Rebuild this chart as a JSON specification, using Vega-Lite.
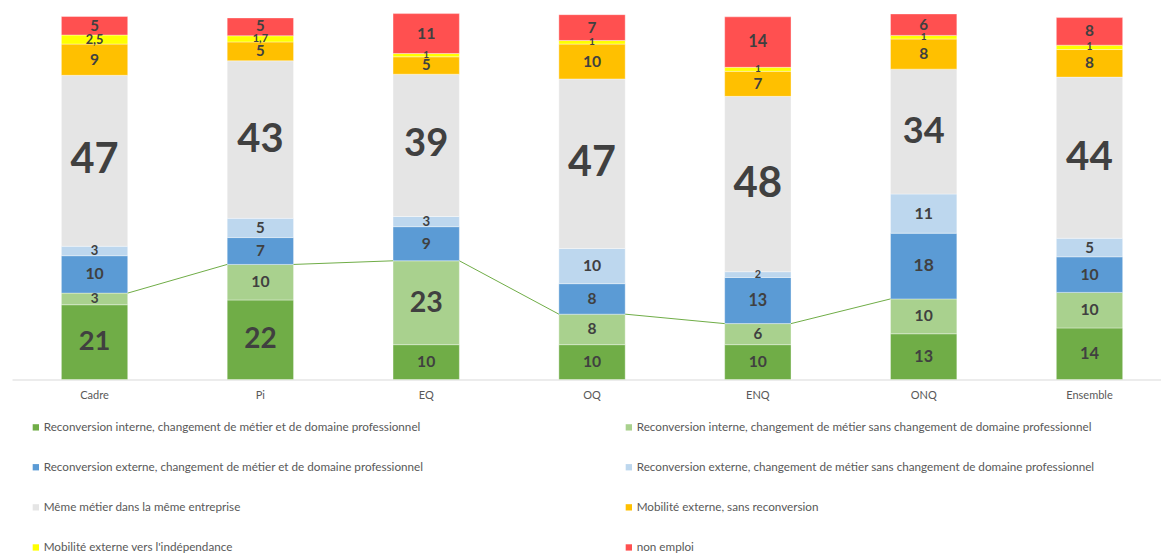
{
  "$schema": "https://vega.github.io/schema/vega-lite/v6.json",
  "width": 1149,
  "height": 378.5,
  "autosize": {"type": "none"},
  "padding": {"left": 12, "top": 1, "right": 0, "bottom": 180.5},
  "background": "white",
  "config": {"view": {"stroke": null}, "font": "Lato"},
  "datasets": {
    "segs": [
      {"cat": "Cadre", "k": 1, "serie": "Reconversion interne, changement de métier et de domaine professionnel", "value": 20.6, "label": "21"},
      {"cat": "Cadre", "k": 2, "serie": "Reconversion interne, changement de métier sans changement de domaine professionnel", "value": 3.2, "label": "3"},
      {"cat": "Cadre", "k": 3, "serie": "Reconversion externe, changement de métier et de domaine professionnel", "value": 10.3, "label": "10"},
      {"cat": "Cadre", "k": 4, "serie": "Reconversion externe, changement de métier sans changement de domaine professionnel", "value": 2.6, "label": "3"},
      {"cat": "Cadre", "k": 5, "serie": "Même métier dans la même entreprise", "value": 47.1, "label": "47"},
      {"cat": "Cadre", "k": 6, "serie": "Mobilité externe, sans reconversion", "value": 8.6, "label": "9"},
      {"cat": "Cadre", "k": 7, "serie": "Mobilité externe vers l'indépendance", "value": 2.5, "label": "2,5"},
      {"cat": "Cadre", "k": 8, "serie": "non emploi", "value": 5.1, "label": "5"},

      {"cat": "Pi", "k": 1, "serie": "Reconversion interne, changement de métier et de domaine professionnel", "value": 21.9, "label": "22"},
      {"cat": "Pi", "k": 2, "serie": "Reconversion interne, changement de métier sans changement de domaine professionnel", "value": 9.8, "label": "10"},
      {"cat": "Pi", "k": 3, "serie": "Reconversion externe, changement de métier et de domaine professionnel", "value": 7.4, "label": "7"},
      {"cat": "Pi", "k": 4, "serie": "Reconversion externe, changement de métier sans changement de domaine professionnel", "value": 5.3, "label": "5"},
      {"cat": "Pi", "k": 5, "serie": "Même métier dans la même entreprise", "value": 43.4, "label": "43"},
      {"cat": "Pi", "k": 6, "serie": "Mobilité externe, sans reconversion", "value": 5.2, "label": "5"},
      {"cat": "Pi", "k": 7, "serie": "Mobilité externe vers l'indépendance", "value": 1.7, "label": "1,7"},
      {"cat": "Pi", "k": 8, "serie": "non emploi", "value": 4.9, "label": "5"},

      {"cat": "EQ", "k": 1, "serie": "Reconversion interne, changement de métier et de domaine professionnel", "value": 9.6, "label": "10"},
      {"cat": "EQ", "k": 2, "serie": "Reconversion interne, changement de métier sans changement de domaine professionnel", "value": 23.1, "label": "23"},
      {"cat": "EQ", "k": 3, "serie": "Reconversion externe, changement de métier et de domaine professionnel", "value": 9.4, "label": "9"},
      {"cat": "EQ", "k": 4, "serie": "Reconversion externe, changement de métier sans changement de domaine professionnel", "value": 2.8, "label": "3"},
      {"cat": "EQ", "k": 5, "serie": "Même métier dans la même entreprise", "value": 39.2, "label": "39"},
      {"cat": "EQ", "k": 6, "serie": "Mobilité externe, sans reconversion", "value": 4.8, "label": "5"},
      {"cat": "EQ", "k": 7, "serie": "Mobilité externe vers l'indépendance", "value": 0.9, "label": "1"},
      {"cat": "EQ", "k": 8, "serie": "non emploi", "value": 11.0, "label": "11"},

      {"cat": "OQ", "k": 1, "serie": "Reconversion interne, changement de métier et de domaine professionnel", "value": 9.6, "label": "10"},
      {"cat": "OQ", "k": 2, "serie": "Reconversion interne, changement de métier sans changement de domaine professionnel", "value": 8.4, "label": "8"},
      {"cat": "OQ", "k": 3, "serie": "Reconversion externe, changement de métier et de domaine professionnel", "value": 8.4, "label": "8"},
      {"cat": "OQ", "k": 4, "serie": "Reconversion externe, changement de métier sans changement de domaine professionnel", "value": 9.7, "label": "10"},
      {"cat": "OQ", "k": 5, "serie": "Même métier dans la même entreprise", "value": 46.7, "label": "47"},
      {"cat": "OQ", "k": 6, "serie": "Mobilité externe, sans reconversion", "value": 9.6, "label": "10"},
      {"cat": "OQ", "k": 7, "serie": "Mobilité externe vers l'indépendance", "value": 1.0, "label": "1"},
      {"cat": "OQ", "k": 8, "serie": "non emploi", "value": 7.1, "label": "7"},

      {"cat": "ENQ", "k": 1, "serie": "Reconversion interne, changement de métier et de domaine professionnel", "value": 9.6, "label": "10"},
      {"cat": "ENQ", "k": 2, "serie": "Reconversion interne, changement de métier sans changement de domaine professionnel", "value": 5.8, "label": "6"},
      {"cat": "ENQ", "k": 3, "serie": "Reconversion externe, changement de métier et de domaine professionnel", "value": 12.7, "label": "13"},
      {"cat": "ENQ", "k": 4, "serie": "Reconversion externe, changement de métier sans changement de domaine professionnel", "value": 1.6, "label": "2"},
      {"cat": "ENQ", "k": 5, "serie": "Même métier dans la même entreprise", "value": 48.3, "label": "48"},
      {"cat": "ENQ", "k": 6, "serie": "Mobilité externe, sans reconversion", "value": 6.9, "label": "7"},
      {"cat": "ENQ", "k": 7, "serie": "Mobilité externe vers l'indépendance", "value": 1.1, "label": "1"},
      {"cat": "ENQ", "k": 8, "serie": "non emploi", "value": 13.9, "label": "14"},

      {"cat": "ONQ", "k": 1, "serie": "Reconversion interne, changement de métier et de domaine professionnel", "value": 12.6, "label": "13"},
      {"cat": "ONQ", "k": 2, "serie": "Reconversion interne, changement de métier sans changement de domaine professionnel", "value": 9.6, "label": "10"},
      {"cat": "ONQ", "k": 3, "serie": "Reconversion externe, changement de métier et de domaine professionnel", "value": 18.1, "label": "18"},
      {"cat": "ONQ", "k": 4, "serie": "Reconversion externe, changement de métier sans changement de domaine professionnel", "value": 10.8, "label": "11"},
      {"cat": "ONQ", "k": 5, "serie": "Même métier dans la même entreprise", "value": 34.4, "label": "34"},
      {"cat": "ONQ", "k": 6, "serie": "Mobilité externe, sans reconversion", "value": 8.3, "label": "8"},
      {"cat": "ONQ", "k": 7, "serie": "Mobilité externe vers l'indépendance", "value": 1.0, "label": "1"},
      {"cat": "ONQ", "k": 8, "serie": "non emploi", "value": 5.9, "label": "6"},

      {"cat": "Ensemble", "k": 1, "serie": "Reconversion interne, changement de métier et de domaine professionnel", "value": 14.2, "label": "14"},
      {"cat": "Ensemble", "k": 2, "serie": "Reconversion interne, changement de métier sans changement de domaine professionnel", "value": 9.8, "label": "10"},
      {"cat": "Ensemble", "k": 3, "serie": "Reconversion externe, changement de métier et de domaine professionnel", "value": 9.8, "label": "10"},
      {"cat": "Ensemble", "k": 4, "serie": "Reconversion externe, changement de métier sans changement de domaine professionnel", "value": 5.1, "label": "5"},
      {"cat": "Ensemble", "k": 5, "serie": "Même métier dans la même entreprise", "value": 44.4, "label": "44"},
      {"cat": "Ensemble", "k": 6, "serie": "Mobilité externe, sans reconversion", "value": 7.6, "label": "8"},
      {"cat": "Ensemble", "k": 7, "serie": "Mobilité externe vers l'indépendance", "value": 1.2, "label": "1"},
      {"cat": "Ensemble", "k": 8, "serie": "non emploi", "value": 7.6, "label": "8"}
    ],
    "links": [
      {"from": "Cadre", "to": "Pi", "y_from": 23.8, "y_to": 31.7},
      {"from": "Pi", "to": "EQ", "y_from": 31.7, "y_to": 32.7},
      {"from": "EQ", "to": "OQ", "y_from": 32.7, "y_to": 18.0},
      {"from": "OQ", "to": "ENQ", "y_from": 18.0, "y_to": 15.4},
      {"from": "ENQ", "to": "ONQ", "y_from": 15.4, "y_to": 22.2}
    ]
  },
  "layer": [
    {
      "data": {"name": "segs"},
      "transform": [
        {"stack": "value", "groupby": ["cat"], "sort": [{"field": "k", "order": "ascending"}], "as": ["v0", "v1"]},
        {"calculate": "(datum.v0 + datum.v1) / 2", "as": "mid"}
      ],
      "layer": [
        {
          "mark": {"type": "bar", "stroke": "white", "strokeWidth": 0.6, "strokeOpacity": 0.6},
          "encoding": {
            "x": {
              "field": "cat", "type": "nominal", "title": null,
              "scale": {"domain": ["Cadre", "Pi", "EQ", "OQ", "ENQ", "ONQ", "Ensemble"], "paddingInner": 0.6, "paddingOuter": 0.2645, "align": 0.563},
              "axis": {"labelAngle": 0, "ticks": false, "domainColor": "#D9D9D9", "domainWidth": 1, "labelFont": "Lato", "labelFontSize": 11, "labelColor": "#595959", "labelPadding": 10}
            },
            "y": {"field": "v0", "type": "quantitative", "scale": {"domain": [0, 104.27], "nice": false}, "axis": null},
            "y2": {"field": "v1"},
            "color": {
              "field": "serie", "type": "nominal",
              "scale": {
                "domain": [
                  "Reconversion interne, changement de métier et de domaine professionnel",
                  "Reconversion interne, changement de métier sans changement de domaine professionnel",
                  "Reconversion externe, changement de métier et de domaine professionnel",
                  "Reconversion externe, changement de métier sans changement de domaine professionnel",
                  "Même métier dans la même entreprise",
                  "Mobilité externe, sans reconversion",
                  "Mobilité externe vers l'indépendance",
                  "non emploi"
                ],
                "range": ["#70AD47", "#A9D18E", "#5B9BD5", "#BDD7EE", "#E5E5E5", "#FFC000", "#FFFF00", "#FF5050"]
              },
              "legend": {
                "title": null, "orient": "none", "legendX": 18, "legendY": 420.3, "direction": "horizontal", "columns": 2, "columnPadding": 199, "rowPadding": 27.1,
                "symbolType": "square", "symbolSize": 40, "symbolStrokeWidth": 0, "labelFont": "Lato", "labelFontSize": 11.7,
                "labelColor": "#595959", "labelOffset": 2, "labelLimit": 0, "padding": 0
              }
            }
          }
        },
        {
          "mark": {"type": "text", "font": "Lato", "fontWeight": "bold", "fill": "#404040", "baseline": "middle", "align": "center"},
          "encoding": {
            "x": {"field": "cat", "type": "nominal"},
            "y": {"field": "mid", "type": "quantitative"},
            "text": {"field": "label"},
            "size": {
              "field": "value", "type": "quantitative",
              "scale": {"type": "linear", "domain": [0.9, 1.7, 2.6, 5, 18, 20, 24, 34, 48.3], "range": [10, 11, 13, 15, 17, 27, 29, 36, 42], "zero": false, "nice": false},
              "legend": null
            }
          }
        }
      ]
    },
    {
      "data": {"name": "links"},
      "mark": {"type": "rule", "color": "#70AD47", "strokeWidth": 1},
      "encoding": {
        "x": {
          "field": "from", "type": "nominal", "bandPosition": 1, "title": null,
          "axis": {"labelAngle": 0, "ticks": false, "domainColor": "#D9D9D9", "domainWidth": 1, "labelFont": "Lato", "labelFontSize": 11, "labelColor": "#595959", "labelPadding": 10}
        },
        "x2": {"field": "to", "bandPosition": 0},
        "y": {"field": "y_from", "type": "quantitative"},
        "y2": {"field": "y_to"}
      }
    }
  ]
}
